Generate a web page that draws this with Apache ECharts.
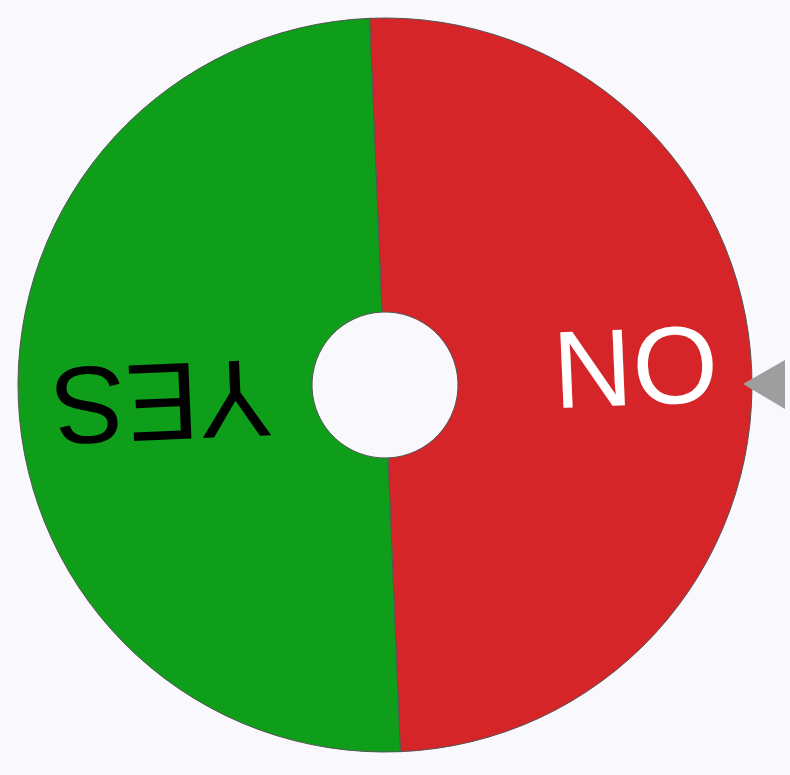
<!DOCTYPE html>
<html>
<head>
<meta charset="utf-8">
<script src="https://cdn.jsdelivr.net/npm/echarts@6/dist/echarts.min.js"></script>
<style>
html,body{margin:0;padding:0;background:#f8f8fd;}
#chart{width:790px;height:775px;}
</style>
</head>
<body>
<div id="chart"></div>
<script>
const categories = ['NO', 'YES'];
const values = [1, 1];

const sliceColors = ['#d62528', '#0f9e1a'];
const textColors = ['#ffffff', '#000000'];
const startAngle = 92.4;

const total = values.reduce((a, b) => a + b, 0);
let acc = 0;
const data = categories.map((name, i) => {
  const mid = startAngle - (acc + values[i] / 2) / total * 360;
  acc += values[i];
  return {
    name: name,
    value: values[i],
    itemStyle: { color: sliceColors[i] },
    label: { rotate: mid, rich: { t: { color: textColors[i] } } }
  };
});

const chart = echarts.init(document.getElementById('chart'), null, { renderer: 'canvas' });
chart.setOption({
  backgroundColor: '#f8f8fd',
  animation: false,
  series: [{
    type: 'pie',
    center: [385, 385],
    radius: [73, 367],
    startAngle: startAngle,
    clockwise: true,
    silent: true,
    itemStyle: { borderColor: '#555555', borderWidth: 1 },
    label: {
      show: true,
      position: 'inside',
      formatter: '{t|{b}}',
      width: 221,
      rich: {
        t: {
          align: 'right',
          fontSize: 110,
          fontFamily: 'Liberation Sans',
          lineHeight: 110
        }
      }
    },
    labelLine: { show: false },
    emphasis: { disabled: true },
    data: data
  }],
  graphic: [{
    type: 'polygon',
    z: 100,
    shape: { points: [[743, 384], [785, 360], [785, 409]] },
    style: { fill: '#9e9e9e' }
  }]
});
</script>
</body>
</html>
